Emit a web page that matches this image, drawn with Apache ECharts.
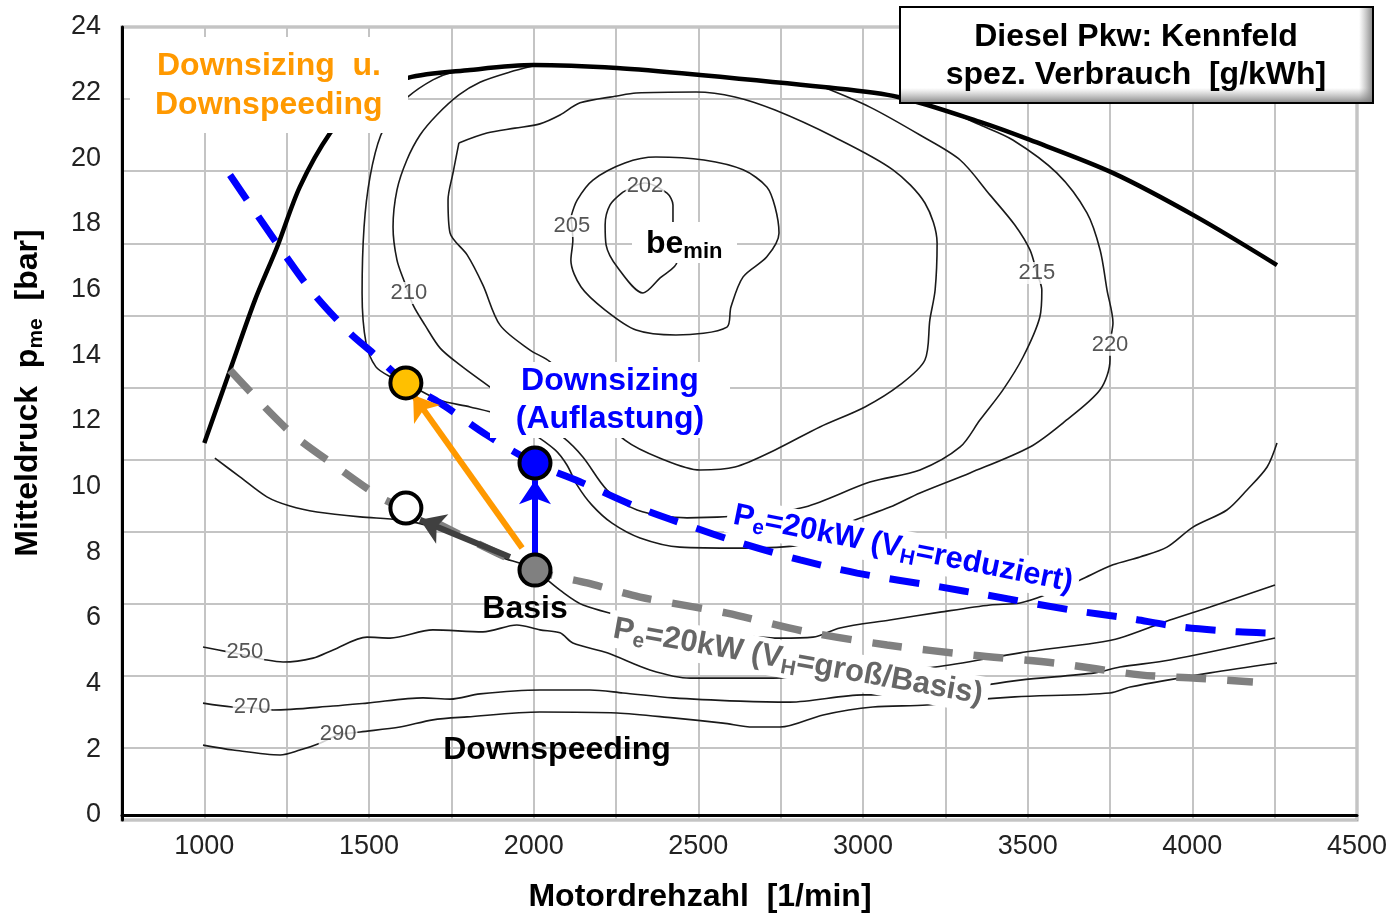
<!DOCTYPE html>
<html>
<head>
<meta charset="utf-8">
<title>Diesel Pkw: Kennfeld spez. Verbrauch</title>
<script src="https://cdn.jsdelivr.net/npm/echarts@6/dist/echarts.min.js"></script>
<style>
  html, body { margin: 0; padding: 0; background: #fff; }
  #chart { width: 1399px; height: 916px; }
</style>
</head>
<body>
<div id="chart"></div>
<script>
// all values as [Drehzahl 1/min, pme bar]
const yTicks = [0, 2, 4, 6, 8, 10, 12, 14, 16, 18, 20, 22, 24];

const fullLoad = [[1000,11.33],[1078,13.55],[1154,15.69],[1221,17.3],[1290,19.13],[1382,20.77],[1473,21.78],[1618,22.45],[1807,22.69],[2000,22.84],[2253,22.75],[2505,22.54],[2880,22.17],[3106,21.87],[3355,21.11],[3507,20.56],[3760,19.55],[4014,18.21],[4257,16.75]];

// Pe = 20 kW, VH reduziert (blau) und VH gross/Basis (grau)
const peReduziert = [[1078,19.49],[1230,17.27],[1330,15.9],[1442,14.68],[1512,14.07],[1612,13.16],[1716,12.55],[1858,11.57],[2004,10.72],[2150,10.11],[2314,9.38],[2466,8.83],[2627,8.29],[2809,7.77],[2982,7.37],[3234,6.95],[3376,6.7],[3629,6.25],[3802,6.0],[3963,5.73],[4139,5.58],[4236,5.54]];
const peBasis = [[1078,13.55],[1260,11.67],[1403,10.6],[1543,9.63],[1612,9.35],[2004,7.46],[2162,7.07],[2323,6.64],[2587,6.15],[2830,5.58],[3073,5.18],[3334,4.87],[3583,4.63],[3841,4.27],[4014,4.17],[4184,4.05]];

// Betriebspunkte
const ptDownsizingSpeeding = [1612, 13.16];
const ptDownsizing = [2004, 10.72];
const ptDownspeeding = [1612, 9.35];
const ptBasis = [2004, 7.46];

// Pfeile [von, nach]
const arrowOrange = [[1965, 8.13], [1634, 12.79]];
const arrowBlue = [[2004, 7.98], [2004, 10.2]];
const arrowGrey = [[1928, 7.86], [1655, 8.99]];

// Linien konstanten spez. Verbrauchs
const c202 = [[2271,18.97],[2232,18.58],[2217,17.97],[2220,17.36],[2256,16.66],[2332,15.9],[2384,16.36],[2435,16.84],[2429,17.51],[2423,18.06],[2423,18.58],[2405,18.94],[2338,19.25],[2271,18.97]];
const c205 = [[2113,18.21],[2119,17.51],[2113,16.9],[2144,16.08],[2217,15.38],[2311,14.77],[2432,14.62],[2587,14.86],[2599,15.47],[2636,16.39],[2708,17.0],[2745,17.73],[2733,18.52],[2708,19.13],[2636,19.65],[2517,19.95],[2371,20.04],[2277,19.86],[2180,19.34],[2132,18.73],[2113,18.21]];
const c207 = [[1773,20.47],[1858,20.77],[1943,20.92],[2019,21.05],[2080,21.32],[2141,21.69],[2253,21.9],[2311,21.99],[2493,22.02],[2611,21.87],[2733,21.47],[2912,20.65],[3091,19.65],[3188,18.64],[3225,17.42],[3219,15.99],[3203,15.08],[3188,13.86],[3112,13.1],[3006,12.43],[2869,11.82],[2733,11.12],[2611,10.6],[2505,10.51],[2384,10.87],[2277,11.42],[2171,12.49],[2050,13.8],[1989,14.16],[1898,14.92],[1846,16.14],[1798,17.06],[1746,17.73],[1740,18.73],[1755,19.55],[1773,20.47]];
const c210 = [[1998,22.81],[1928,22.63],[1837,22.32],[1773,21.93],[1706,21.32],[1655,20.71],[1615,19.95],[1585,19.04],[1573,17.91],[1585,16.9],[1609,16.2],[1634,15.53],[1670,14.92],[1716,14.22],[1776,13.71],[1867,13.04],[1989,12.18],[2089,11.51],[2150,10.9],[2223,9.9],[2314,9.29],[2466,9.05],[2657,9.14],[2824,9.38],[3021,10.14],[3173,10.51],[3295,11.21],[3355,12.03],[3425,12.95],[3486,13.95],[3537,15.17],[3543,15.99],[3528,16.51],[3507,17.21],[3461,17.97],[3386,18.88],[3295,19.95],[3173,20.71],[3021,21.56],[2879,22.17]];
const c220 = [[1807,22.69],[1755,22.63],[1694,22.39],[1618,21.87],[1579,21.38],[1536,20.71],[1503,19.43],[1485,17.91],[1479,15.9],[1491,14.38],[1521,13.65],[1567,13.34],[1612,13.16],[1713,12.64],[1807,12.43],[1898,12.18],[1989,11.67],[2065,11.12],[2101,10.66],[2132,10.05],[2177,9.44],[2238,8.89],[2323,8.44],[2444,8.16],[2627,8.13],[2809,8.22],[2961,8.93],[3082,9.38],[3173,9.81],[3325,10.42],[3507,11.21],[3607,11.94],[3720,12.95],[3750,13.86],[3750,14.32],[3759,14.99],[3741,15.99],[3720,17.21],[3680,18.34],[3589,19.55],[3455,20.56],[3355,21.02],[3234,21.53],[3112,21.87]];
const c230 = [[1032,10.87],[1108,10.3],[1190,9.69],[1260,9.41],[1342,9.23],[1473,9.08],[1594,8.99],[1694,8.77],[1807,8.32],[1898,7.86],[1989,7.55],[2080,6.85],[2150,6.4],[2323,5.94],[2535,5.58],[2748,5.39],[2848,5.42],[2930,5.7],[3082,5.94],[3234,6.18],[3386,6.4],[3477,6.46],[3553,6.7],[3659,7.16],[3759,7.62],[3841,7.86],[3923,8.16],[4002,8.77],[4105,9.29],[4166,9.9],[4227,10.6],[4257,11.33]];
const c250 = [[996,5.12],[1072,4.97],[1123,4.87],[1190,4.72],[1239,4.66],[1330,4.78],[1391,5.03],[1494,5.42],[1564,5.39],[1694,5.64],[1846,5.58],[1949,5.79],[2019,5.64],[2080,5.55],[2119,5.24],[2223,4.94],[2353,4.42],[2475,4.17],[2727,4.17],[2961,4.36],[3219,4.51],[3477,4.94],[3704,5.24],[3780,5.39],[3932,5.94],[4054,6.34],[4251,7.01]];
const c270 = [[996,3.41],[1084,3.29],[1145,3.26],[1209,3.2],[1391,3.32],[1494,3.41],[1664,3.57],[1746,3.53],[1837,3.69],[2019,3.81],[2171,3.81],[2271,3.72],[2423,3.57],[2627,3.47],[2778,3.44],[3000,3.66],[3082,3.66],[3264,3.81],[3477,4.11],[3704,4.33],[3780,4.51],[3932,4.72],[4251,5.39]];
const c290 = [[996,2.13],[1087,1.98],[1230,1.83],[1290,1.98],[1351,2.19],[1406,2.44],[1473,2.53],[1594,2.68],[1694,2.9],[1798,2.99],[2019,3.14],[2253,3.11],[2423,2.96],[2575,2.8],[2666,2.68],[2748,2.68],[2879,3.05],[3030,3.29],[3194,3.35],[3325,3.5],[3461,3.6],[3750,3.72],[3811,3.9],[4054,4.33],[4257,4.63]];

const contourNames = ['202', '205', '210', '215', '220', '250', '270', '290'];
const contourLabelPos = [[2338,19.16],[2116,17.94],[1621,15.9],[3528,16.51],[3750,14.32],[1123,4.97],[1145,3.29],[1406,2.47]];

const FONT = 'Arial, "Liberation Sans", Helvetica, sans-serif';

const chart = echarts.init(document.getElementById('chart'));

const contourSeries = [c202, c205, c207, c210, c220, c230, c250, c270, c290].map(d => ({
  type: 'line',
  data: d,
  symbol: 'none',
  smooth: 0.3,
  silent: true,
  lineStyle: { color: '#1a1a1a', width: 1.6 },
  z: 2
}));

function arrowSeries(coords, color) {
  return {
    type: 'lines',
    coordinateSystem: 'cartesian2d',
    xAxisIndex: 0,
    yAxisIndex: 0,
    symbol: ['none', 'arrow'],
    symbolSize: 24,
    silent: true,
    lineStyle: { color: color, width: 6, opacity: 1, curveness: 0 },
    data: [{ coords: coords }],
    z: 6
  };
}

function sub(color, size, subSize) {
  return {
    a: { fill: color, fontSize: size, fontWeight: 'bold', fontFamily: FONT, lineHeight: size + 6, verticalAlign: 'middle' },
    s: { fill: color, fontSize: subSize, fontWeight: 'bold', fontFamily: FONT, lineHeight: subSize, verticalAlign: 'bottom' }
  };
}

function label(text, x, y, color, extra) {
  return Object.assign({
    type: 'text', x: x, y: y, z: 60, silent: true,
    style: { text: text, fill: color, fontSize: 32, fontWeight: 'bold', fontFamily: FONT, align: 'center', verticalAlign: 'middle' }
  }, extra || {});
}

chart.setOption({
  animation: false,
  grid: [
    { left: 122, right: 42, top: 27, bottom: 96, show: true, borderColor: '#aaaaaa', borderWidth: 3, backgroundColor: '#fff' },
    { left: 122, right: 42, top: 27, bottom: 101, show: false }
  ],
  xAxis: [
    {
      gridIndex: 0, type: 'value', min: 750, max: 4500, interval: 250,
      axisLine: { show: true, lineStyle: { color: '#000', width: 3 } },
      axisTick: { show: false },
      axisLabel: {
        fontSize: 27, color: '#222', fontFamily: FONT, margin: 13,
        formatter: v => (v >= 1000 && v % 500 === 0) ? String(v) : ''
      },
      splitLine: { show: true, lineStyle: { color: '#c4c4c4', width: 2 } }
    },
    { gridIndex: 1, type: 'value', min: 0, max: 1, show: false }
  ],
  yAxis: [
    {
      gridIndex: 0, type: 'value', min: -0.15, max: 24, position: 'left',
      axisLine: { show: true, lineStyle: { color: '#000', width: 3 } },
      axisTick: { show: false }, axisLabel: { show: false }, splitLine: { show: false }
    },
    {
      gridIndex: 0, type: 'value', min: 0, max: 11, interval: 1, position: 'right',
      axisLine: { show: false }, axisTick: { show: false }, axisLabel: { show: false },
      splitLine: { show: true, lineStyle: { color: '#c4c4c4', width: 2 } }
    },
    {
      gridIndex: 1, type: 'value', min: yTicks[0], max: yTicks[yTicks.length - 1], interval: 2, position: 'left',
      axisLine: { show: false }, axisTick: { show: false }, splitLine: { show: false },
      axisLabel: { fontSize: 27, color: '#222', fontFamily: FONT, margin: 21 }
    }
  ],
  series: [
    ...contourSeries,
    {
      type: 'line', data: fullLoad, symbol: 'none', smooth: 0.3, silent: true,
      lineStyle: { color: '#000', width: 4.5 }, z: 3
    },
    {
      type: 'line', data: peBasis, symbol: 'none', smooth: 0.3, silent: true,
      lineStyle: { color: '#808080', width: 7.5, type: [30, 21], cap: 'butt' }, z: 4
    },
    {
      type: 'line', data: peReduziert, symbol: 'none', smooth: 0.3, silent: true,
      lineStyle: { color: '#0000ff', width: 7, type: [30, 20], cap: 'butt' }, z: 4
    },
    {
      type: 'scatter', silent: true, symbolSize: 1, z: 5,
      itemStyle: { color: 'rgba(0,0,0,0)' },
      label: {
        show: true, position: 'inside', formatter: '{b}',
        fontSize: 22, color: '#2a2a2a', fontFamily: FONT,
        backgroundColor: '#fff', padding: [0, 1]
      },
      data: contourNames.map((n, i) => ({ name: n, value: contourLabelPos[i] }))
    },
    arrowSeries(arrowOrange, '#ff9900'),
    arrowSeries(arrowBlue, '#0000ff'),
    arrowSeries(arrowGrey, '#404040'),
    {
      type: 'scatter', silent: true, symbolSize: 31, z: 8,
      itemStyle: { borderColor: '#000', borderWidth: 4, opacity: 1 },
      data: [
        { value: ptDownsizingSpeeding, itemStyle: { color: '#ffc000' } },
        { value: ptDownsizing, itemStyle: { color: '#0000ff' } },
        { value: ptDownspeeding, itemStyle: { color: '#ffffff' } },
        { value: ptBasis, itemStyle: { color: '#808080' } }
      ]
    }
  ],
  graphic: [
    // Titelkasten
    { type: 'rect', z: 70, silent: true, shape: { x: 900, y: 7, width: 473, height: 96 }, style: { fill: '#fff' } },
    { type: 'rect', z: 71, silent: true, shape: { x: 1359, y: 7, width: 14, height: 96 },
      style: { fill: new echarts.graphic.LinearGradient(0, 0, 1, 0, [{ offset: 0, color: 'rgba(150,150,150,0)' }, { offset: 1, color: 'rgba(120,120,120,0.9)' }]) } },
    { type: 'rect', z: 71, silent: true, shape: { x: 900, y: 88, width: 473, height: 15 },
      style: { fill: new echarts.graphic.LinearGradient(0, 0, 0, 1, [{ offset: 0, color: 'rgba(150,150,150,0)' }, { offset: 1, color: 'rgba(120,120,120,0.9)' }]) } },
    { type: 'rect', z: 72, silent: true, shape: { x: 900, y: 7, width: 473, height: 96 }, style: { fill: 'none', stroke: '#000', lineWidth: 2 } },
    label('Diesel Pkw: Kennfeld', 1136, 37, '#000', { z: 73 }),
    label('spez. Verbrauch  [g/kWh]', 1136, 75, '#000', { z: 73 }),

    // Downsizing u. Downspeeding
    { type: 'rect', z: 59, silent: true, shape: { x: 130, y: 37, width: 278, height: 96 }, style: { fill: '#fff' } },
    { type: 'text', x: 157, y: 66, z: 60, silent: true,
      style: { text: 'Downsizing  u.', fill: '#ff9900', fontSize: 32, fontWeight: 'bold', fontFamily: FONT, align: 'left', verticalAlign: 'middle' } },
    { type: 'text', x: 155, y: 105, z: 60, silent: true,
      style: { text: 'Downspeeding', fill: '#ff9900', fontSize: 32, fontWeight: 'bold', fontFamily: FONT, align: 'left', verticalAlign: 'middle' } },

    // Downsizing (Auflastung)
    { type: 'rect', z: 59, silent: true, shape: { x: 490, y: 362, width: 240, height: 76 }, style: { fill: '#fff' } },
    label('Downsizing', 610, 381, '#0000ff'),
    label('(Auflastung)', 610, 419, '#0000ff'),

    // be_min
    { type: 'rect', z: 59, silent: true, shape: { x: 632, y: 222, width: 105, height: 41 }, style: { fill: '#fff' } },
    { type: 'text', x: 646, y: 244, z: 60, silent: true,
      style: { text: '{a|be}{s|min}', align: 'left', verticalAlign: 'middle', rich: sub('#000', 32, 22) } },

    label('Basis', 525, 609, '#000'),
    label('Downspeeding', 557, 750, '#000'),

    // Pe-Beschriftungen
    { type: 'text', x: 903, y: 549, rotation: -11.3 * Math.PI / 180, z: 60, silent: true,
      style: { text: '{a|P}{s|e}{a|=20kW (V}{s|H}{a|=reduziert)}', align: 'center', verticalAlign: 'middle',
        backgroundColor: '#fff', padding: [0, 6], rich: sub('#0000ff', 31, 21) } },
    { type: 'text', x: 798, y: 662, rotation: -10.2 * Math.PI / 180, z: 60, silent: true,
      style: { text: '{a|P}{s|e}{a|=20kW (V}{s|H}{a|=groß/Basis)}', align: 'center', verticalAlign: 'middle',
        backgroundColor: '#fff', padding: [0, 6], rich: sub('#666666', 31, 21) } },

    // Achsentitel
    label('Motordrehzahl  [1/min]', 700, 897, '#000'),
    { type: 'text', x: 28, y: 393, rotation: Math.PI / 2, z: 60, silent: true,
      style: { text: '{a|Mitteldruck  p}{s|me}{a|  [bar]}', align: 'center', verticalAlign: 'middle', rich: sub('#000', 32, 21) } }
  ]
});
</script>
</body>
</html>
